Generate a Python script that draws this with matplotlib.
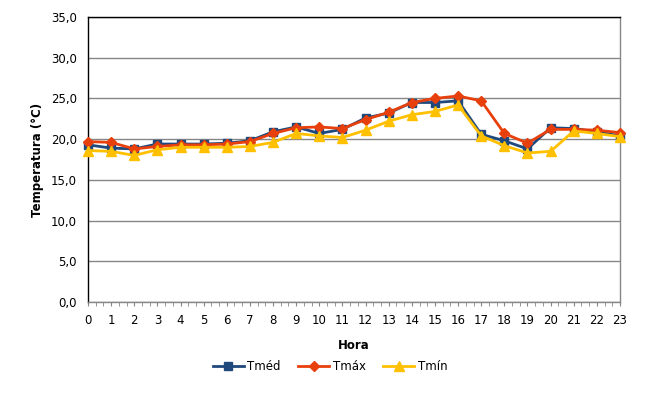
import matplotlib.pyplot as plt
import numpy as np
from matplotlib.ticker import FuncFormatter, MultipleLocator

hours = list(range(24))
t_med = [19.3, 18.9, 18.8, 19.4, 19.4, 19.4, 19.5, 19.8, 20.9, 21.5, 20.7, 21.2,
         22.6, 23.2, 24.5, 24.5, 24.7, 20.6, 19.8, 18.8, 21.4, 21.3, 20.9, 20.4]
t_max = [19.7, 19.6, 18.8, 19.1, 19.3, 19.3, 19.4, 19.7, 20.7, 21.4, 21.5, 21.3,
         22.4, 23.3, 24.5, 25.0, 25.3, 24.7, 20.7, 19.5, 21.2, 21.2, 21.1, 20.8]
t_min = [18.6, 18.5, 18.0, 18.7, 19.0, 19.0, 19.0, 19.1, 19.6, 20.7, 20.4, 20.2,
         21.1, 22.2, 23.0, 23.4, 24.2, 20.4, 19.2, 18.3, 18.5, 21.0, 20.7, 20.3]
y_ticks = [0, 5, 10, 15, 20, 25, 30, 35]

fig = plt.figure(figsize=(6.71, 4.03), dpi=100)
ax = fig.add_axes([88 / 671, 1 - 302 / 403, (620 - 88) / 671, (302 - 17) / 403])

ax.plot(hours, t_med, "s-", color="#1f497d", lw=2, markersize=6, label="Tméd",
        clip_on=False, zorder=3)
ax.plot(hours, t_max, "D-", color="#e8400c", lw=2, markersize=5.5, label="Tmáx",
        clip_on=False, zorder=4)
ax.plot(hours, t_min, "^-", color="#ffc000", lw=2, markersize=6.5, label="Tmín",
        clip_on=False, zorder=5)

ax.set_xlim(0, 23)
ax.set_ylim(0, 35)
ax.set_xticks(hours)
ax.xaxis.set_minor_locator(MultipleLocator(1 / 3))
ax.set_yticks(y_ticks)
ax.yaxis.set_major_formatter(FuncFormatter(lambda v, p: f"{v:.1f}".replace(".", ",")))
ax.grid(axis="y", color="#868686", lw=1)
ax.set_axisbelow(True)

ax.tick_params(axis="y", length=0, pad=8, labelsize=8.5)
ax.tick_params(axis="x", which="major", length=3, color="#868686", pad=6, labelsize=8.5)
ax.tick_params(axis="x", which="minor", length=3, color="#868686")

ax.spines["left"].set_color("black")
ax.spines["top"].set_color("black")
ax.spines["right"].set_color("#868686")
ax.spines["bottom"].set_color("#868686")
for s in ax.spines.values():
    s.set_linewidth(1)

ax.set_xlabel("Hora", fontsize=8.5, fontweight="bold", labelpad=8)
ax.set_ylabel("Temperatura (°C)", fontsize=8.5, fontweight="bold", labelpad=5)

fig.legend(loc="center", bbox_to_anchor=(330 / 671, 1 - 367 / 403), ncol=3,
           frameon=False, fontsize=8.5, handlelength=2.6, columnspacing=1.5,
           handletextpad=0.3)

fig.savefig("out.png", dpi=100)
